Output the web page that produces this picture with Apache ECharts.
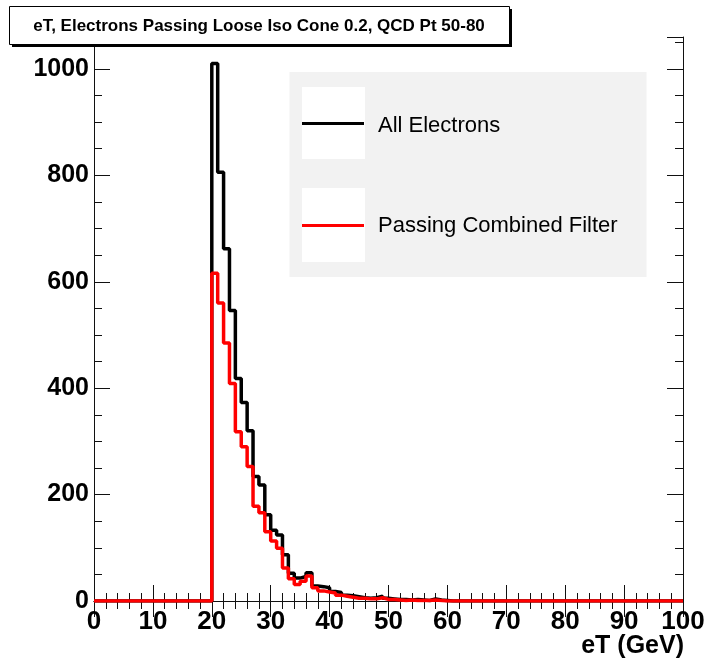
<!DOCTYPE html>
<html>
<head>
<meta charset="utf-8">
<script src="https://cdn.jsdelivr.net/npm/echarts@6/dist/echarts.min.js"></script>
<style>
html,body{margin:0;padding:0;background:#fff;}
#chart{width:707px;height:664px;}
</style>
</head>
<body>
<div id="chart"></div>
<script>
// Bin lower edges (GeV), 1 GeV bins from 0 to 100
const binLow = [0,1,2,3,4,5,6,7,8,9,10,11,12,13,14,15,16,17,18,19,20,21,22,23,24,25,26,27,28,29,30,31,32,33,34,35,36,37,38,39,40,41,42,43,44,45,46,47,48,49,50,51,52,53,54,55,56,57,58,59,60,61,62,63,64,65,66,67,68,69,70,71,72,73,74,75,76,77,78,79,80,81,82,83,84,85,86,87,88,89,90,91,92,93,94,95,96,97,98,99];
const binWidth = 1;

// "All Electrons" counts per bin
const allElectrons = [
  0,0,0,0,0,0,0,0,0,0,
  0,0,0,0,0,0,0,0,0,0,
  1010,806,662,546,418,373,320,234,218,162,
  133,124,87,52,43,46,53,28,27,25,
  18,16,11,10,8,6,5,6,9,5,
  4,3,3,2,3,2,1,4,2,1,
  0,0,0,0,0,0,0,0,0,0,
  0,0,0,0,0,0,0,0,0,0,
  0,0,0,0,0,0,0,0,0,0,
  0,0,0,0,0,0,0,0,0,0
];

// "Passing Combined Filter" counts per bin
const passingFilter = [
  0,0,0,0,0,0,0,0,0,0,
  0,0,0,0,0,0,0,0,0,0,
  616,560,485,409,318,290,253,178,166,130,
  113,99,62,42,31,37,47,25,19,17,
  15,11,9,7,5,5,4,4,6,3,
  3,2,1,2,1,1,1,2,1,0,
  0,0,0,0,0,0,0,0,0,0,
  0,0,0,0,0,0,0,0,0,0,
  0,0,0,0,0,0,0,0,0,0,
  0,0,0,0,0,0,0,0,0,0
];

const xTicks = [0,10,20,30,40,50,60,70,80,90,100];
const yTicks = [0,200,400,600,800,1000];
const titleText = 'eT, Electrons Passing Loose Iso Cone 0.2, QCD Pt 50-80';
const seriesNames = ['All Electrons', 'Passing Combined Filter'];
const xTitle = 'eT (GeV)';

function histPoints(vals) {
  const pts = binLow.map((x, i) => [x, vals[i]]);
  pts.push([binLow[binLow.length - 1] + binWidth, vals[vals.length - 1]]);
  return pts;
}

const FONT = '"Liberation Sans", Arial, Helvetica, sans-serif';
const X_MAX = xTicks[xTicks.length - 1];
const Y_MAX = 1060;

const chart = echarts.init(document.getElementById('chart'));

const lineStyleAxis = { color: '#111', width: 1 };

const option = {
  animation: false,
  backgroundColor: '#ffffff',
  grid: { left: 94, right: 24, top: 37, bottom: 63, containLabel: false, outerBoundsMode: 'none' },
  xAxis: [
    {
      type: 'value', position: 'bottom', min: xTicks[0], max: X_MAX, interval: 10,
      axisLine: { show: true, lineStyle: lineStyleAxis },
      axisTick: { show: true, inside: true, length: 16, lineStyle: lineStyleAxis },
      minorTick: { show: true, splitNumber: 5, length: 8, lineStyle: lineStyleAxis },
      splitLine: { show: false },
      axisLabel: { show: true, margin: 8, fontFamily: FONT, fontWeight: 'bold', fontSize: 26, color: '#000' }
    },
    {
      type: 'value', position: 'top', min: xTicks[0], max: X_MAX, interval: 10,
      axisLine: { show: true, lineStyle: lineStyleAxis },
      axisTick: { show: true, inside: true, length: 16, lineStyle: lineStyleAxis },
      minorTick: { show: true, splitNumber: 5, length: 8, lineStyle: lineStyleAxis },
      splitLine: { show: false },
      axisLabel: { show: false }
    }
  ],
  yAxis: [
    {
      type: 'value', position: 'left', min: yTicks[0], max: Y_MAX, interval: 200,
      axisLine: { show: true, lineStyle: lineStyleAxis },
      axisTick: { show: true, inside: true, length: 16, lineStyle: lineStyleAxis },
      splitLine: { show: false },
      axisLabel: { show: true, margin: 5, showMaxLabel: false, fontFamily: FONT, fontWeight: 'bold', fontSize: 25, color: '#000',
        formatter: v => (yTicks.indexOf(v) >= 0 ? String(v) : '') }
    },
    {
      type: 'value', position: 'left', min: 0, max: Y_MAX, interval: 50,
      axisLine: { show: false },
      axisTick: { show: true, inside: true, length: 8, lineStyle: lineStyleAxis },
      splitLine: { show: false }, axisLabel: { show: false }
    },
    {
      type: 'value', position: 'right', min: 0, max: Y_MAX, interval: 200,
      axisLine: { show: true, lineStyle: lineStyleAxis },
      axisTick: { show: true, inside: true, length: 16, lineStyle: lineStyleAxis },
      splitLine: { show: false }, axisLabel: { show: false }
    },
    {
      type: 'value', position: 'right', min: 0, max: Y_MAX, interval: 50,
      axisLine: { show: false },
      axisTick: { show: true, inside: true, length: 8, lineStyle: lineStyleAxis },
      splitLine: { show: false }, axisLabel: { show: false }
    }
  ],
  series: [
    {
      name: seriesNames[0], type: 'line', step: 'end', xAxisIndex: 0, yAxisIndex: 0,
      data: histPoints(allElectrons), symbol: 'none',
      lineStyle: { color: '#000000', width: 3.5 }, z: 3
    },
    {
      name: seriesNames[1], type: 'line', step: 'end', xAxisIndex: 0, yAxisIndex: 0,
      data: histPoints(passingFilter), symbol: 'none',
      lineStyle: { color: '#ff0000', width: 3.5 }, z: 4
    }
  ],
  graphic: [
    // title box with shadow
    { type: 'rect', z: 100, shape: { x: 12, y: 9, width: 500, height: 38 }, style: { fill: '#000' } },
    { type: 'rect', z: 101, shape: { x: 9.5, y: 6.5, width: 500, height: 38 }, style: { fill: '#fff', stroke: '#000', lineWidth: 1 } },
    { type: 'text', z: 102, x: 259, y: 26, style: { text: titleText, fontFamily: FONT, fontWeight: 'bold', fontSize: 17, fill: '#000', align: 'center', verticalAlign: 'middle' } },
    // x-axis title
    { type: 'text', z: 60, x: 684, y: 646, style: { text: xTitle, fontFamily: FONT, fontWeight: 'bold', fontSize: 25, fill: '#000', align: 'right', verticalAlign: 'middle' } },
    // legend
    { type: 'rect', z: 50, shape: { x: 289.5, y: 72, width: 357, height: 205 }, style: { fill: '#f2f2f2' } },
    { type: 'rect', z: 51, shape: { x: 302, y: 87, width: 63, height: 72 }, style: { fill: '#ffffff' } },
    { type: 'rect', z: 51, shape: { x: 302, y: 188, width: 63, height: 74 }, style: { fill: '#ffffff' } },
    { type: 'line', z: 52, shape: { x1: 302, y1: 123.5, x2: 364, y2: 123.5 }, style: { stroke: '#000', lineWidth: 3 } },
    { type: 'line', z: 52, shape: { x1: 302, y1: 225.5, x2: 364, y2: 225.5 }, style: { stroke: '#ff0000', lineWidth: 3 } },
    { type: 'text', z: 52, x: 378, y: 126, style: { text: seriesNames[0], fontFamily: FONT, fontSize: 22, fill: '#000', align: 'left', verticalAlign: 'middle' } },
    { type: 'text', z: 52, x: 378, y: 226, style: { text: seriesNames[1], fontFamily: FONT, fontSize: 22, fill: '#000', align: 'left', verticalAlign: 'middle' } }
  ]
};

chart.setOption(option);
</script>
</body>
</html>
